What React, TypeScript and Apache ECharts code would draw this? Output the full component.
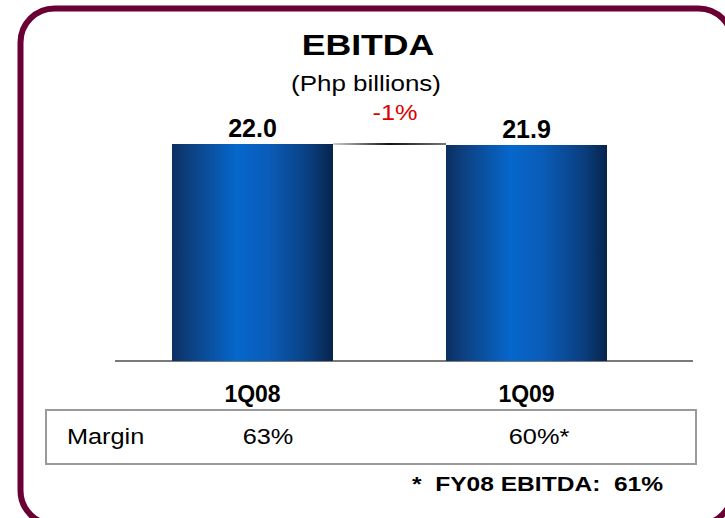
import React, { useEffect, useRef } from "react";
import * as echarts from "echarts";

const categories = ["1Q08", "1Q09"];
const ebitda = [22.0, 21.9];
const marginLabel = "Margin";
const margins = ["63%", "60%*"];
const changeLabel = "-1%";
const titleText = "EBITDA";
const subtitleText = "(Php billions)";
const footnote = "*  FY08 EBITDA:  61%";

const FONT = "Arial, 'Liberation Sans', sans-serif";

export default function App() {
  const ref = useRef<HTMLDivElement>(null);
  useEffect(() => {
    if (!ref.current) return;
    const chart = echarts.init(ref.current, undefined, { renderer: "svg" });
    const barWidth = 161;
    const barGradient = new echarts.graphic.LinearGradient(0, 0, 1, 0, [
      { offset: 0, color: "#0b2f61" },
      { offset: 0.1, color: "#0d3f7e" },
      { offset: 0.4, color: "#0667cc" },
      { offset: 0.6, color: "#0a5cb8" },
      { offset: 0.85, color: "#0a3f80" },
      { offset: 1, color: "#07244c" },
    ]);
    chart.setOption({
      animation: false,
      backgroundColor: "#ffffff",
      grid: { left: 115.5, right: 61.5, top: 65, bottom: 157 },
      xAxis: {
        type: "category",
        data: categories,
        axisLine: { show: false },
        axisTick: { show: false },
        axisLabel: {
          fontSize: 23,
          fontWeight: "bold",
          color: "#000",
          fontFamily: FONT,
          margin: 21,
        },
      },
      yAxis: {
        type: "value",
        min: 0,
        max: 30,
        show: false,
        splitLine: { show: false },
      },
      series: [
        {
          type: "bar",
          data: ebitda,
          barWidth,
          itemStyle: { color: barGradient },
          label: {
            show: true,
            position: "top",
            distance: 3,
            fontSize: 25,
            fontWeight: "bold",
            color: "#000",
            fontFamily: FONT,
            formatter: (p: any) => Number(p.value).toFixed(1),
          },
        },
      ],
    });

    const p1 = chart.convertToPixel({ xAxisIndex: 0, yAxisIndex: 0 }, [categories[0], ebitda[0]]) as number[];
    const p2 = chart.convertToPixel({ xAxisIndex: 0, yAxisIndex: 0 }, [categories[1], ebitda[1]]) as number[];
    const base = chart.convertToPixel({ xAxisIndex: 0, yAxisIndex: 0 }, [categories[0], 0]) as number[];

    const lx1 = p1[0] + barWidth / 2;
    const lx2 = p2[0] - barWidth / 2;
    const sx = 1.15;
    chart.setOption({
      graphic: [
        {
          type: "rect",
          shape: { x: 20.5, y: 8.5, width: 712, height: 516, r: 34 },
          style: { fill: "none", stroke: "#6a0033", lineWidth: 6 },
          silent: true,
        },
        {
          type: "line",
          shape: { x1: 115, y1: base[1], x2: 693, y2: base[1] },
          style: { stroke: "#7a7a7a", lineWidth: 2 },
        },
        {
          type: "line",
          shape: { x1: lx1, y1: p1[1], x2: lx2, y2: p1[1] },
          style: {
            stroke: new echarts.graphic.LinearGradient(
              lx1, 0, lx2, 0,
              [
                { offset: 0, color: "#d0d0d0" },
                { offset: 0.5, color: "#111111" },
                { offset: 1, color: "#777777" },
              ],
              true
            ),
            lineWidth: 2,
          },
        },
        {
          type: "text",
          x: 368,
          y: 45,
          scaleX: 1.23,
          style: {
            text: titleText,
            font: `bold 29px ${FONT}`,
            fill: "#000",
            textAlign: "center",
            textVerticalAlign: "middle",
          },
        },
        {
          type: "text",
          x: 366,
          y: 83,
          scaleX: 1.18,
          style: {
            text: subtitleText,
            font: `22px ${FONT}`,
            fill: "#000",
            textAlign: "center",
            textVerticalAlign: "middle",
          },
        },
        {
          type: "text",
          x: 395,
          y: 113,
          scaleX: sx,
          style: {
            text: changeLabel,
            font: `22px ${FONT}`,
            fill: "#e00000",
            textAlign: "center",
            textVerticalAlign: "middle",
          },
        },
        {
          type: "rect",
          shape: { x: 46, y: 410, width: 650, height: 54 },
          style: { fill: "none", stroke: "#9a9a9a", lineWidth: 2 },
        },
        {
          type: "text",
          x: 67,
          y: 437,
          scaleX: sx,
          style: {
            text: marginLabel,
            font: `22px ${FONT}`,
            fill: "#000",
            textAlign: "left",
            textVerticalAlign: "middle",
          },
        },
        {
          type: "text",
          x: 268,
          y: 437,
          scaleX: sx,
          style: {
            text: margins[0],
            font: `22px ${FONT}`,
            fill: "#000",
            textAlign: "center",
            textVerticalAlign: "middle",
          },
        },
        {
          type: "text",
          x: 539,
          y: 437,
          scaleX: sx,
          style: {
            text: margins[1],
            font: `22px ${FONT}`,
            fill: "#000",
            textAlign: "center",
            textVerticalAlign: "middle",
          },
        },
        {
          type: "text",
          x: 412,
          y: 484,
          scaleX: 1.17,
          style: {
            text: footnote,
            font: `bold 21px ${FONT}`,
            fill: "#000",
            textAlign: "left",
            textVerticalAlign: "middle",
          },
        },
      ],
    });

    return () => chart.dispose();
  }, []);

  return (
    <div
      ref={ref}
      style={{ position: "fixed", left: 0, top: 0, width: 725, height: 518 }}
    />
  );
}
